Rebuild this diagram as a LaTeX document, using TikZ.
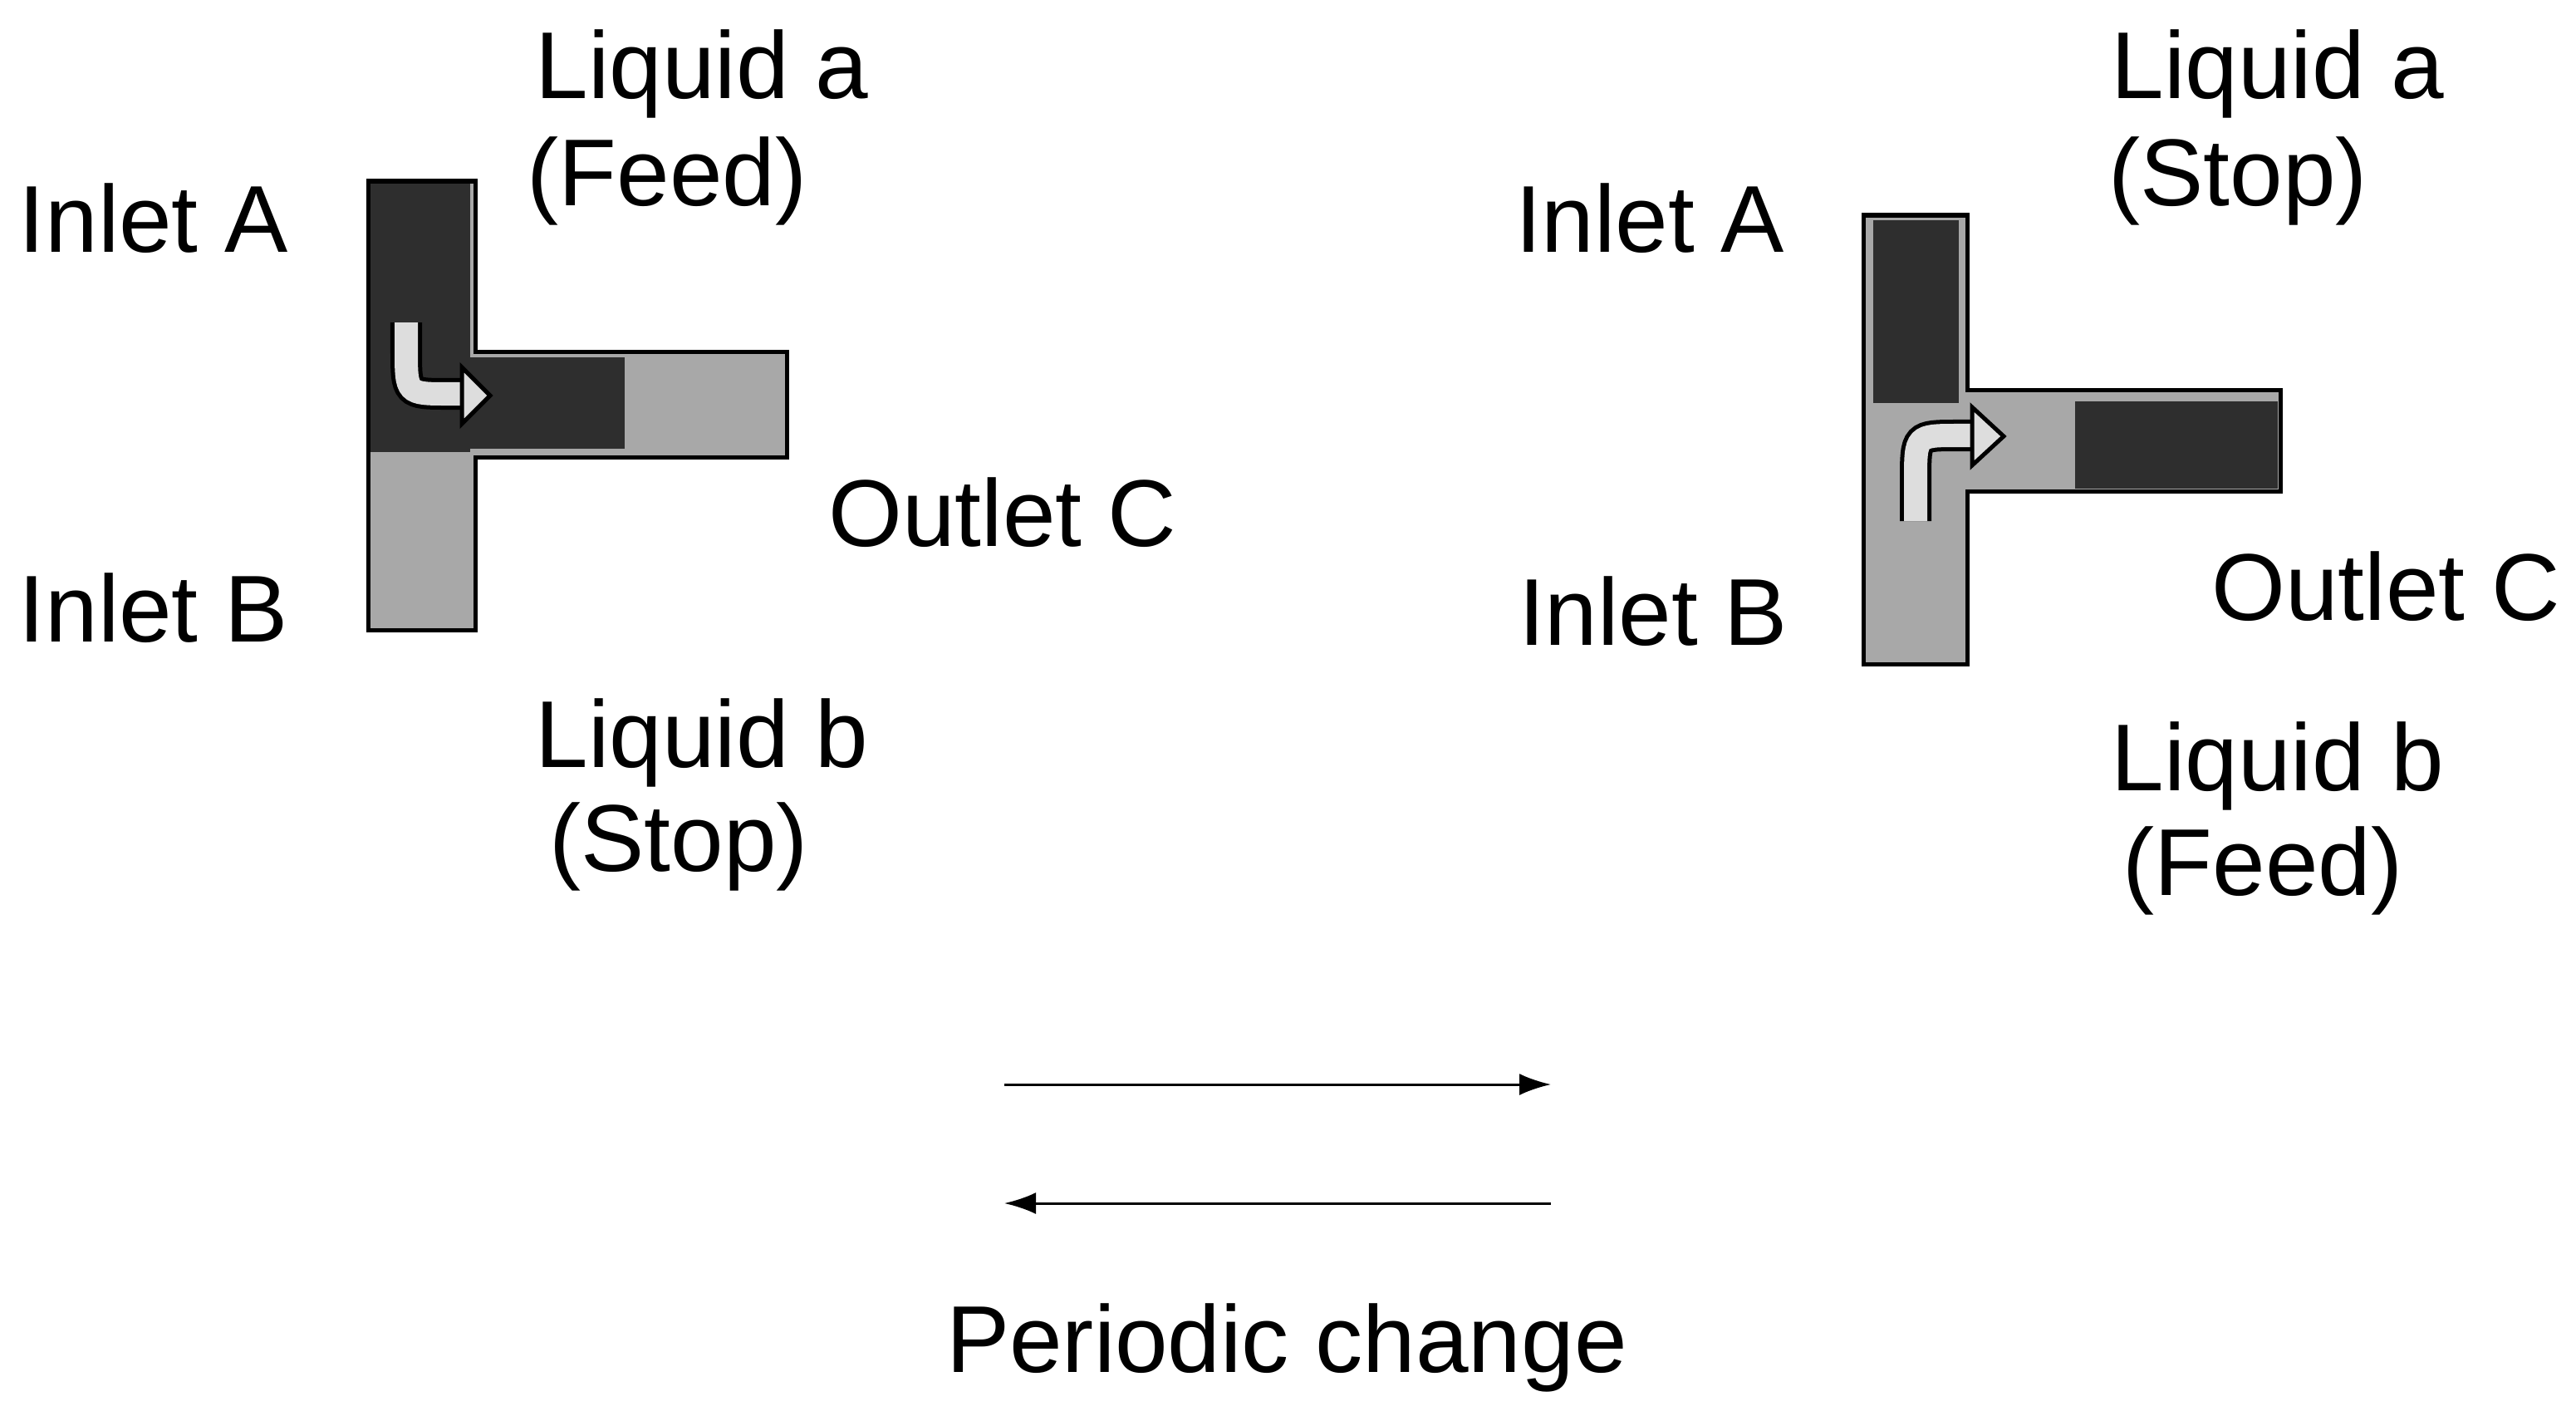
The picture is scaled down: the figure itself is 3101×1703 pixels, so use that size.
\documentclass[tikz,border=0pt]{standalone}
\usepackage{fontspec}
\setmainfont{Liberation Sans}
\usetikzlibrary{arrows.meta}
\definecolor{dk}{HTML}{2E2E2E}
\definecolor{gr}{HTML}{A8A8A8}
\definecolor{lt}{HTML}{DDDDDD}
\begin{document}
\begin{tikzpicture}[x=0.01cm,y=-0.01cm,
  lbl/.style={inner sep=0pt,font=\fontsize{32.5pt}{38pt}\selectfont},
  outline/.style={draw=black,line width=0.05cm},
  shaft/.style={draw=black,line width=0.05cm,double=lt,double distance=0.28cm},
  head/.style={draw=black,fill=lt,line width=0.05cm,line join=miter}]
\useasboundingbox (0,0) rectangle (3101,1703);
% ---- left T ----
\fill[gr] (443,218) rectangle (572,758);
\fill[gr] (572,423) rectangle (947,550);
\fill[dk] (443,218) rectangle (566,544);
\fill[dk] (566,430) rectangle (752,540);
\draw[outline] (443,218) -- (572,218) -- (572,423) -- (947,423) -- (947,550) -- (572,550) -- (572,758) -- (443,758) -- cycle;
\draw[shaft] (489,388) -- (489,420) .. controls (489,474) .. (540,474) -- (558,474);
\draw[head] (556,442) -- (590,476) -- (556,510) -- cycle;
% ---- right T ----
\fill[gr] (2243,259) rectangle (2368,799);
\fill[gr] (2368,469) rectangle (2745,591);
\fill[dk] (2255,265) rectangle (2358,485);
\fill[dk] (2498,483) rectangle (2742,588);
\draw[outline] (2243,259) -- (2368,259) -- (2368,469) -- (2745,469) -- (2745,591) -- (2368,591) -- (2368,799) -- (2243,799) -- cycle;
\draw[shaft] (2306,627) -- (2306,578) .. controls (2306,524) .. (2357,524) -- (2376,524);
\draw[head] (2374,490) -- (2412,525) -- (2374,560) -- cycle;
% ---- labels ----
\node[lbl,anchor=west] (ia1) at (22,263) {Inlet A};
\node[lbl,anchor=west] (ib1) at (22,732) {Inlet B};
\node[lbl] (la1) at (845,89) {Liquid a};
\node[lbl] (fa1) at (803,218) {(Feed)};
\node[lbl] (oc1) at (1207,617) {Outlet C};
\node[lbl] (lb1) at (845,894) {Liquid b};
\node[lbl] (sb1) at (817,1019) {(Stop)};
\node[lbl] (ia2) at (1986,263) {Inlet A};
\node[lbl] (ib2) at (1990,736) {Inlet B};
\node[lbl] (la2) at (2742,89) {Liquid a};
\node[lbl] (sa2) at (2694,218) {(Stop)};
\node[lbl] (oc2) at (2872,706) {Outlet C};
\node[lbl] (lb2) at (2742,922) {Liquid b};
\node[lbl] (fb2) at (2724,1048) {(Feed)};
\node[lbl] (pc) at (1549,1622) {Periodic change};
% ---- periodic arrows ----
\coordinate (p1) at (1209,1305);
\coordinate (p2) at (1867,1305);
\coordinate (p3) at (1867,1448);
\coordinate (p4) at (1209,1448);
\draw[line width=0.03cm,-{Latex[length=0.38cm,width=0.26cm]}] (p1) -- (p2);
\draw[line width=0.03cm,-{Latex[length=0.38cm,width=0.26cm]}] (p3) -- (p4);
\end{tikzpicture}
\end{document}
